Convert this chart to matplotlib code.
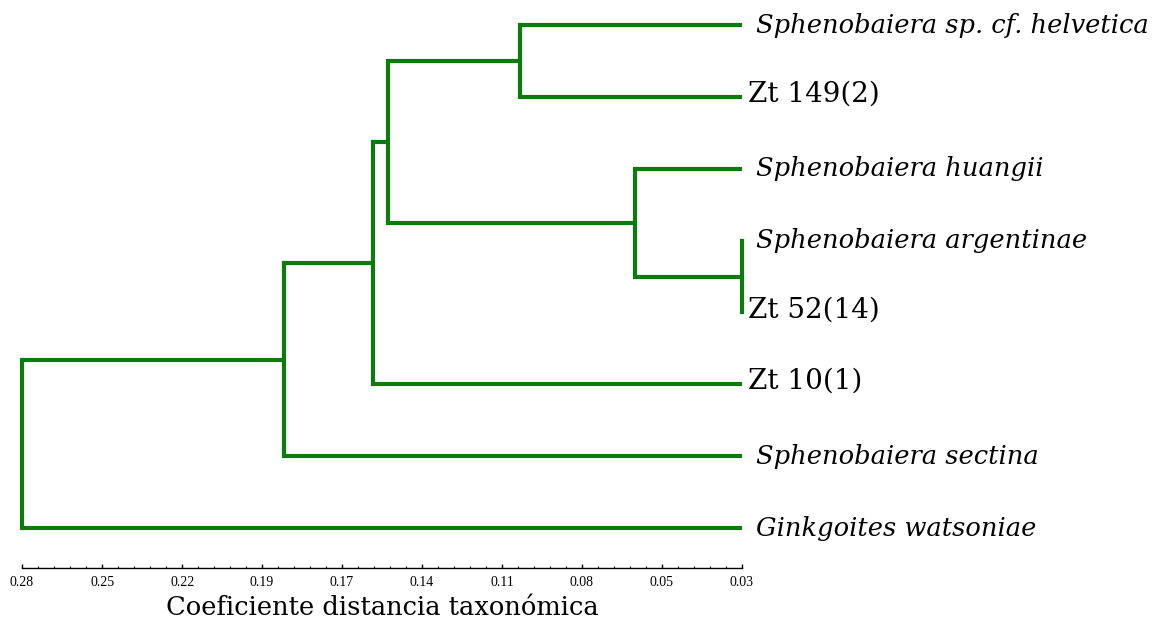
import matplotlib
matplotlib.use("Agg")
import matplotlib.pyplot as plt
import numpy as np

# leaves, top to bottom
leaves = ["Sphenobaiera sp. cf. helvetica", "Zt 149(2)", "Sphenobaiera huangii",
          "Sphenobaiera argentinae", "Zt 52(14)", "Zt 10(1)",
          "Sphenobaiera sectina", "Ginkgoites watsoniae"]
leaf_italic = [True, False, True, True, False, False, True, True]

# merges: (child a, child b, distance); new cluster ids start at len(leaves)
merges = [
    (3, 4, 0.030),
    (0, 1, 0.107),
    (2, 8, 0.067),
    (9, 10, 0.153),
    (11, 5, 0.158),
    (12, 6, 0.189),
    (13, 7, 0.280),
]

tick_values = [0.28, 0.2522, 0.2244, 0.1967, 0.1689, 0.1411, 0.1133, 0.0856, 0.0578, 0.03]
tick_labels = ["0.28", "0.25", "0.22", "0.19", "0.17", "0.14", "0.11", "0.08", "0.05", "0.03"]

leaf_base = 0.03
green = "#0c7a0c"

fig = plt.figure(figsize=(11.61, 6.24), dpi=100)
ax = fig.add_axes([22 / 1161, 1 - 568 / 624, 720 / 1161, 558 / 624])

# node positions
ys = {i: float(i) for i in range(len(leaves))}
hs = {i: leaf_base for i in range(len(leaves))}
for k, (a, b, h) in enumerate(merges):
    nid = len(leaves) + k
    ys[nid] = (ys[a] + ys[b]) / 2
    hs[nid] = h
    for c in (a, b):
        ax.plot([hs[c], h], [ys[c], ys[c]], color=green, lw=3, solid_capstyle="butt", clip_on=False)
    ax.plot([h, h], [ys[a], ys[b]], color=green, lw=3, solid_capstyle="projecting", clip_on=False)

# leaf labels
for i, name in enumerate(leaves):
    if leaf_italic[i]:
        ax.annotate(name, xy=(leaf_base, ys[i]), xytext=(10, 0), textcoords="offset points",
                    ha="left", va="center", fontsize=18.5, family="DejaVu Serif",
                    style="italic", annotation_clip=False)
    else:
        ax.annotate(name, xy=(leaf_base, ys[i]), xytext=(4, 2), textcoords="offset points",
                    ha="left", va="center", fontsize=20, family="DejaVu Serif",
                    annotation_clip=False)

ax.set_xlim(0.28, 0.03)
step = 71.86
ax.set_ylim((568 - 25) / step, -15 / step)

for s in ["top", "right", "left"]:
    ax.spines[s].set_visible(False)
ax.spines["bottom"].set_linewidth(1.0)
ax.set_yticks([])
ax.set_xticks(tick_values)
ax.set_xticklabels(tick_labels, family="Liberation Serif", fontsize=10)
minor = np.linspace(0.28, 0.03, 46)
ax.set_xticks(minor, minor=True)
ax.tick_params(axis="x", which="major", direction="in", length=3, width=1, pad=6)
ax.tick_params(axis="x", which="minor", direction="in", length=1.8, width=0.8)
ax.set_xlabel("Coeficiente distancia taxonómica", family="DejaVu Serif", fontsize=18.5, labelpad=4)

fig.savefig("out.png", dpi=100)
